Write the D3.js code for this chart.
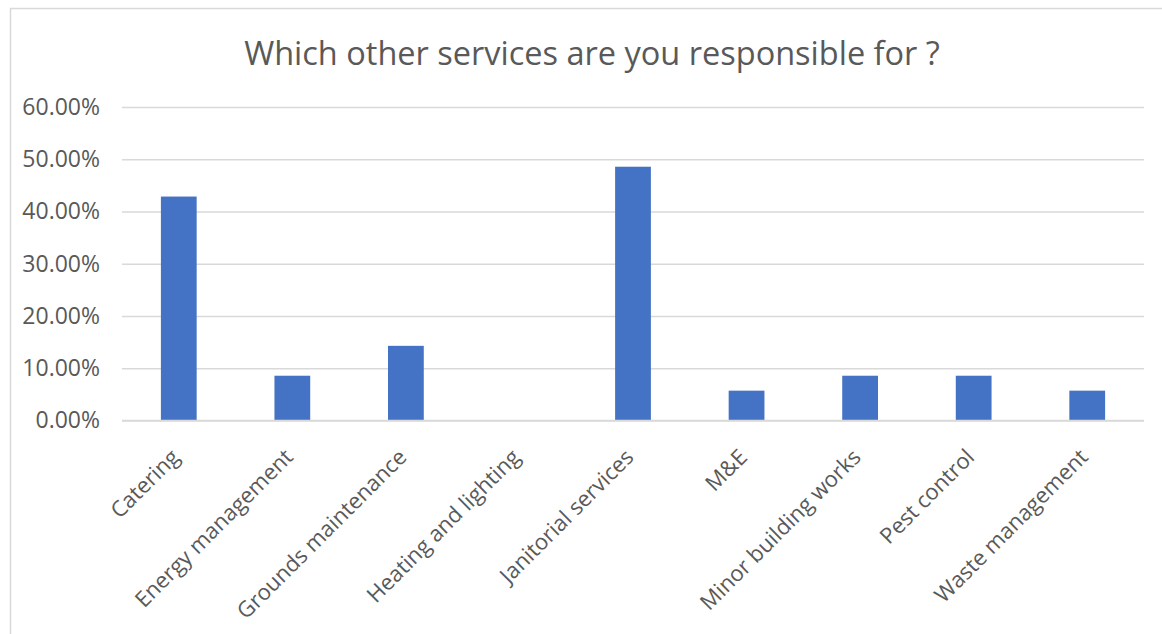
<!DOCTYPE html>
<html>
<head>
<meta charset="utf-8">
<script src="https://cdn.jsdelivr.net/npm/d3@7"></script>
<style>
  html, body { margin: 0; padding: 0; background: #fff; }
  svg { display: block; }
</style>
</head>
<body>
<svg id="chart" width="1162" height="634"></svg>
<script>
// Survey responses: share of respondents responsible for each service
const categories = [
  "Catering", "Energy management", "Grounds maintenance", "Heating and lighting",
  "Janitorial services", "M&E", "Minor building works", "Pest control", "Waste management"
];
const shares = [0.4286, 0.0857, 0.1429, 0, 0.4857, 0.0571, 0.0857, 0.0857, 0.0571];
const yTicks = [0, 0.1, 0.2, 0.3, 0.4, 0.5, 0.6];
const titleText = "Which other services are you responsible for ?";

const svg = d3.select("#chart");
const font = "'Open Sans', 'Liberation Sans', sans-serif";

// Outer chart frame
svg.append("rect")
  .attr("x", 10.5).attr("y", 8.5)
  .attr("width", 1170).attr("height", 640)
  .attr("fill", "#fff").attr("stroke", "#d9d9d9").attr("stroke-width", 1.5);

const plot = { left: 122, right: 1144, top: 107, bottom: 420.5 };

const x = d3.scaleBand()
  .domain(categories)
  .range([plot.left, plot.right])
  .paddingInner(0.685)
  .paddingOuter(0.3425);

const y = d3.scaleLinear()
  .domain([0, 0.6])
  .range([plot.bottom, plot.top]);

// Title
svg.append("text")
  .attr("x", 592).attr("y", 65)
  .attr("text-anchor", "middle")
  .attr("font-family", font)
  .attr("font-size", 32.5)
  .attr("fill", "#595959")
  .text(titleText);

// Horizontal gridlines and percentage labels
const yAxis = d3.axisLeft(y)
  .tickValues(yTicks)
  .tickSize(-(plot.right - plot.left))
  .tickPadding(22)
  .tickFormat(d3.format(".2%"));

const gy = svg.append("g")
  .attr("transform", `translate(${plot.left},0)`)
  .call(yAxis);
gy.select(".domain").remove();
gy.selectAll(".tick line").attr("stroke", "#d9d9d9").attr("stroke-width", 1.5);
gy.selectAll(".tick text")
  .attr("font-family", font)
  .attr("font-size", 23)
  .attr("fill", "#595959");

// Bars
svg.append("g")
  .selectAll("rect")
  .data(categories.map((c, i) => ({ c, v: shares[i] })))
  .join("rect")
  .attr("x", d => x(d.c))
  .attr("width", x.bandwidth())
  .attr("y", d => y(d.v))
  .attr("height", d => y(0) - y(d.v))
  .attr("fill", "#4472c4");

// Redraw baseline above bars
svg.append("line")
  .attr("x1", plot.left).attr("x2", plot.right)
  .attr("y1", y(0)).attr("y2", y(0))
  .attr("stroke", "#d9d9d9").attr("stroke-width", 1.5);

// Category labels, rotated 45 degrees
const xAxis = d3.axisBottom(x).tickSize(0).tickPadding(0);
const gx = svg.append("g")
  .attr("transform", `translate(0,${plot.bottom})`)
  .call(xAxis);
gx.select(".domain").remove();
gx.selectAll(".tick text")
  .attr("font-family", font)
  .attr("font-size", 22)
  .attr("fill", "#595959")
  .attr("text-anchor", "end")
  .attr("dy", null)
  .attr("transform", "translate(2,38) rotate(-45)");
</script>
</body>
</html>
